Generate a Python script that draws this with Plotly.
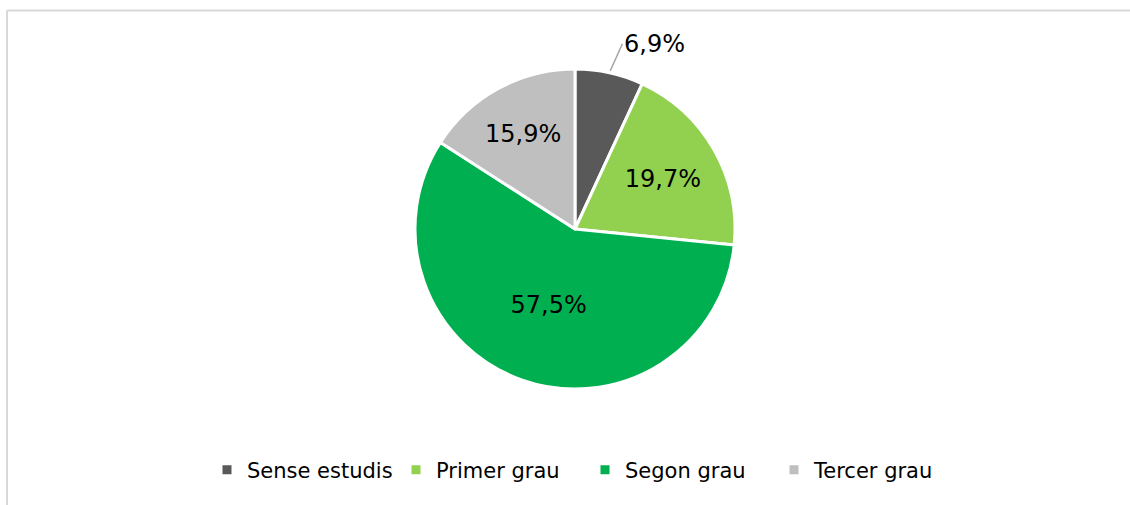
import math
import plotly.graph_objects as go

categories = ["Sense estudis", "Primer grau", "Segon grau", "Tercer grau"]
values = [6.9, 19.7, 57.5, 15.9]
colors = ["#595959", "#92d050", "#00b050", "#bfbfbf"]

W, H = 1130, 505
cx, cy, R = 575, 229, 160

def fmt(v):
    return f"{v:.1f}".replace(".", ",") + "%"

texts = ["" if i == 0 else fmt(v) for i, v in enumerate(values)]

fig = go.Figure()
fig.add_trace(go.Pie(
    labels=categories, values=values, text=texts, textinfo="text",
    textposition="inside", insidetextorientation="horizontal",
    sort=False, direction="clockwise", rotation=0,
    marker=dict(colors=colors, line=dict(color="white", width=3)),
    textfont=dict(family="DejaVu Sans", size=24, color="black"),
    domain=dict(x=[(cx - R) / W, (cx + R) / W], y=[1 - (cy + R) / H, 1 - (cy - R) / H]),
    hoverinfo="label+percent",
))

# outside label for first slice, positioned from the slice's mid angle
total = sum(values)
mid = values[0] / 2 / total * 2 * math.pi
ex, ey = cx + R * math.sin(mid), cy - R * math.cos(mid)
fig.add_annotation(
    x=ex / W, y=1 - ey / H, xref="paper", yref="paper",
    text=fmt(values[0]), showarrow=True, arrowhead=0, arrowwidth=1.5,
    arrowcolor="#a6a6a6", ax=13, ay=-29, xanchor="left", yanchor="middle",
    font=dict(family="DejaVu Sans", size=24, color="black"),
    standoff=2,
)

fig.update_layout(
    width=W, height=H, margin=dict(l=0, r=0, t=0, b=0),
    paper_bgcolor="white", plot_bgcolor="white",
    showlegend=True,
    legend=dict(orientation="h", x=585 / W, xanchor="center", y=1 - 470 / H, yanchor="middle",
                font=dict(family="DejaVu Sans", size=21, color="black"),
                itemwidth=30, traceorder="normal",
                entrywidth=144, entrywidthmode="pixels"),
    shapes=[
        dict(type="line", xref="paper", yref="paper", x0=7 / W, x1=1, y0=1 - 10.5 / H, y1=1 - 10.5 / H,
             line=dict(color="#d9d9d9", width=2)),
        dict(type="line", xref="paper", yref="paper", x0=7 / W, x1=7 / W, y0=1 - 10.5 / H, y1=0,
             line=dict(color="#d9d9d9", width=2)),
    ],
)

fig.write_html("out.html", config={"displayModeBar": False},
               post_script="document.body.style.margin='0';document.body.style.overflow='hidden';")
